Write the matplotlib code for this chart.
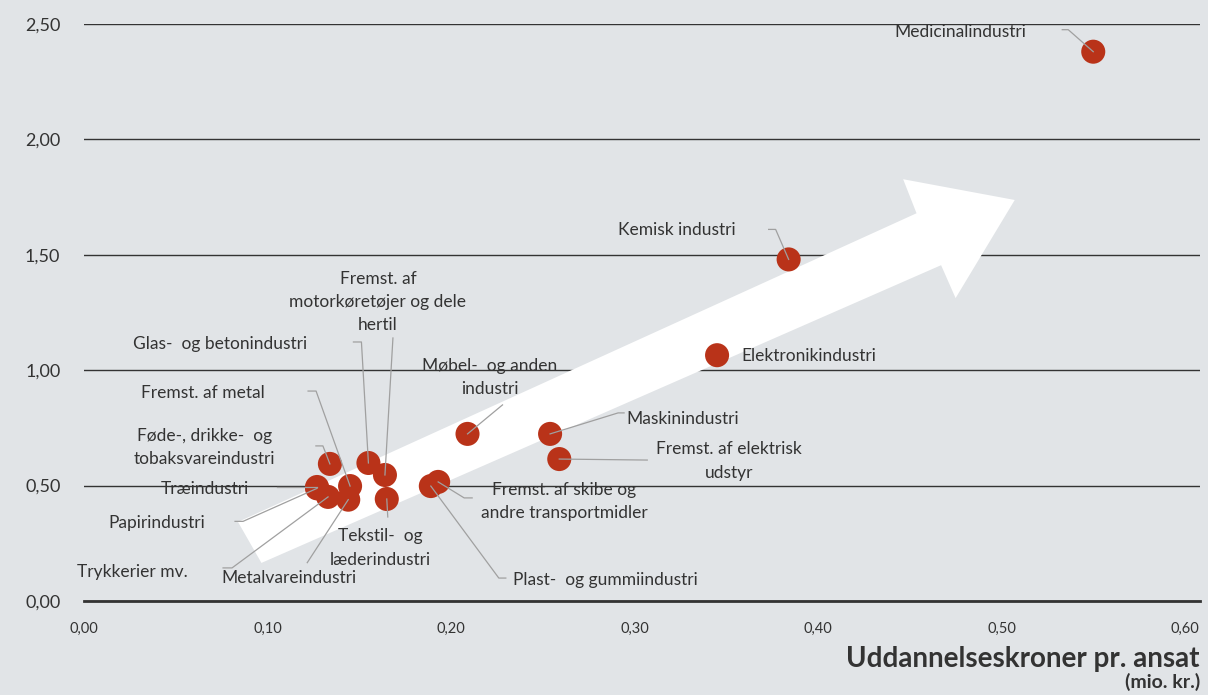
import numpy as np
import matplotlib
matplotlib.use("Agg")
from matplotlib import pyplot as plt
from matplotlib.patches import Polygon

# data
names = [
    "Medicinalindustri", "Kemisk industri", "Elektronikindustri", "Maskinindustri",
    "Fremst. af elektrisk\nudstyr", "Møbel-  og anden\nindustri",
    "Fremst. af skibe og\nandre transportmidler", "Plast-  og gummiindustri",
    "Tekstil-  og\nlæderindustri", "Fremst. af\nmotorkøretøjer og dele\nhertil",
    "Glas-  og betonindustri", "Fremst. af metal",
    "Føde-, drikke-  og\ntobaksvareindustri", "Træindustri", "Papirindustri",
    "Trykkerier mv.", "Metalvareindustri",
]
edu_per_employee = [0.550, 0.384, 0.345, 0.254, 0.259, 0.209, 0.193, 0.189, 0.165,
                    0.164, 0.155, 0.145, 0.134, 0.127, 0.127, 0.133, 0.144]
value_y = [2.38, 1.48, 1.065, 0.724, 0.615, 0.724, 0.516, 0.498, 0.442,
           0.546, 0.598, 0.498, 0.594, 0.494, 0.488, 0.451, 0.439]
x_ticks = [0.0, 0.1, 0.2, 0.3, 0.4, 0.5, 0.6]
y_ticks = [0.0, 0.5, 1.0, 1.5, 2.0, 2.5]

# label layout: text offset (px, image y down), ha, leader path offsets
label_text = [(-133, -20, "center"), (-112, -29, "center"), (24, 1, "left"), (133, -15, "center"),
              (170, 2, "center"), (22, -56, "center"), (126, 20, "center"), (175, 94, "center"),
              (-6, 49, "center"), (-7, -173, "center"), (-148, -119, "center"), (-147, -93, "center"),
              (-125, -16, "center"), (-112, 2, "center"), (-160, 35, "center"), (-196, 75, "center"),
              (-59, 78, "center")]
leaders = [[(-25, -22), (-31, -22)], [(-13, -30), (-20, -30)], [], [(68, -21), (74, -21)],
           [(88, 1)], [(35, -29)], [(26, 16), (34, 16)], [(68, 92), (75, 92)],
           [(1, 18)], [(8, -137)], [(-7, -121), (-15, -121)], [(-34, -95), (-42, -95)],
           [(-7, -18), (-14, -18)], [(-40, 0)], [(-74, 33), (-82, 33)], [(-96, 71), (-105, 71)],
           [(-41, 63)]]

bg = "#e1e4e7"
red = "#b93319"
txt = "#333333"
plt.rcParams["font.family"] = ["Lato", "DejaVu Sans"]

fig = plt.figure(figsize=(12.08, 6.95), dpi=100, facecolor=bg)
W, H = 1208, 695
ax = fig.add_axes([84 / W, 1 - 601 / H, (1200 - 84) / W, (601 - 24) / H], facecolor=bg)
ax.set_xlim(0, 0.6 * 1116 / 1101)
ax.set_ylim(0, 2.5)

for s in ["top", "right", "left"]:
    ax.spines[s].set_visible(False)
ax.spines["bottom"].set_color("#333333")
ax.spines["bottom"].set_linewidth(2.0)
ax.yaxis.grid(True, color="#333333", linewidth=1.0)
ax.set_axisbelow(True)
ax.tick_params(length=0)
ax.set_yticks(y_ticks)
ax.set_yticklabels([f"{v:.2f}".replace(".", ",") for v in y_ticks], fontsize=13, color=txt)
ax.tick_params(axis="y", pad=17)
ax.set_xticks(x_ticks)
ax.set_xticklabels([f"{v:.2f}".replace(".", ",") for v in x_ticks], fontsize=10.5, color=txt)
ax.tick_params(axis="x", pad=15)

# white arrow behind the points
arrow = Polygon([(0.138, 0.137), (0.746, 0.672), (0.734, 0.731), (0.834, 0.695),
                 (0.781, 0.525), (0.768, 0.582), (0.159, 0.066)],
                closed=True, transform=ax.transAxes, facecolor="white", edgecolor="none", zorder=1)
ax.add_patch(arrow)

fig.canvas.draw()
inv = ax.transData.inverted()


def off(x, y, dx, dy):
    p = ax.transData.transform((x, y))
    return inv.transform((p[0] + dx, p[1] - dy))


for i, name in enumerate(names):
    x, y = edu_per_employee[i], value_y[i]
    path = [(x, y)] + [tuple(off(x, y, dx, dy)) for dx, dy in leaders[i]]
    if len(path) > 1:
        xs, ys = zip(*path)
        ax.plot(xs, ys, color="#a0a0a0", linewidth=0.9, zorder=4, clip_on=False)
    tx, ty = off(x, y, label_text[i][0], label_text[i][1])
    ax.text(tx, ty, name, ha=label_text[i][2], va="center", fontsize=12.5, color=txt,
            linespacing=1.55, zorder=5, clip_on=False)

ax.scatter(edu_per_employee, value_y, s=300, color=red, edgecolors="none", zorder=3, clip_on=False)

fig.text(1200 / W, 1 - 659 / H, "Uddannelseskroner pr. ansat", ha="right", va="center",
         fontsize=20, fontweight="bold", color=txt)
fig.text(1200 / W, 4 / H, "(mio. kr.)", ha="right", va="bottom",
         fontsize=14, fontweight="bold", color=txt)

fig.savefig("out.png", dpi=100, facecolor=bg)
